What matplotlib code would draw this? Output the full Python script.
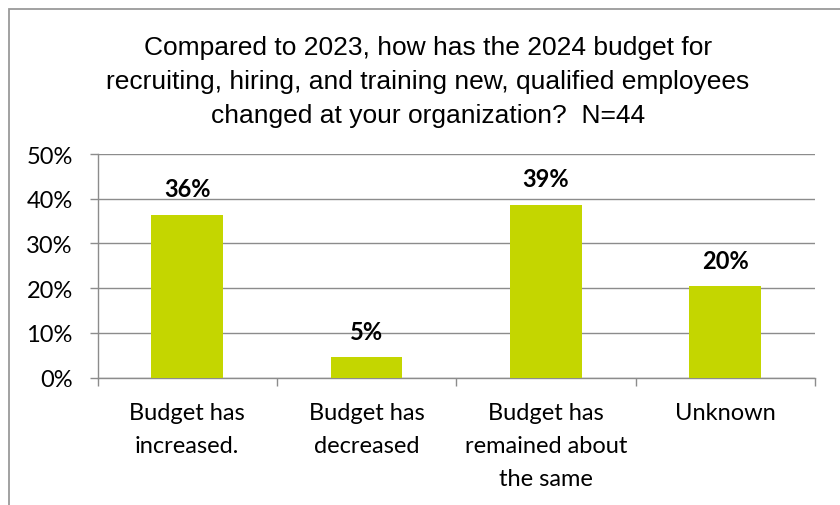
import matplotlib
matplotlib.use("Agg")
import matplotlib.pyplot as plt
from matplotlib.patches import Rectangle
import math

categories = ["Budget has\nincreased.", "Budget has\ndecreased",
              "Budget has\nremained about\nthe same", "Unknown"]
values = [36.36, 4.55, 38.64, 20.45]  # percent of respondents (N=44)
y_ticks = [0, 10, 20, 30, 40, 50]
title = ("Compared to 2023, how has the 2024 budget for\n"
         "recruiting, hiring, and training new, qualified employees\n"
         "changed at your organization?  N=44")

BAR = "#c4d600"
GRID = "#8c8c8c"
W, H, DPI = 840, 506, 100

fig = plt.figure(figsize=(W / DPI, H / DPI), dpi=DPI)
fig.patch.set_facecolor("white")

# chart frame (left and top edges visible)
fig.patches.append(Rectangle((8.5 / W, -0.1), 2.0, (H - 9.5) / H + 0.1,
                             transform=fig.transFigure, fill=False,
                             edgecolor="#9a9a9a", linewidth=1.3))

fig.text(428 / W, 1 - 82 / H, title, ha="center", va="center",
         fontsize=19, family="Liberation Sans", linespacing=1.52, color="black")

left, right = 97.5 / W, 815 / W
bottom, top = 1 - 378.5 / H, 1 - 155 / H
ax = fig.add_axes([left, bottom, right - left, top - bottom])

x = list(range(len(categories)))
ax.bar(x, values, width=0.4, color=BAR, zorder=3)
ax.set_xlim(-0.5, len(categories) - 0.5)
ax.set_ylim(0, 50)

FS = 17
ax.set_yticks(y_ticks)
ax.set_yticklabels([f"{t}%" for t in y_ticks], family="Lato", fontsize=FS)
ax.yaxis.grid(True, color=GRID, linewidth=1.0, zorder=0)
ax.tick_params(axis="y", length=5.8, width=1.0, color=GRID, pad=12)

ax.set_xticks(x)
ax.set_xticklabels(categories, family="Lato", fontsize=FS, linespacing=1.7)
ax.tick_params(axis="x", which="major", length=0, pad=18)
ax.set_xticks([i - 0.5 for i in range(len(categories) + 1)], minor=True)
ax.tick_params(axis="x", which="minor", length=5.8, width=1.0, color=GRID)

for s in ("top", "right"):
    ax.spines[s].set_visible(False)
for s in ("left", "bottom"):
    ax.spines[s].set_color(GRID)
    ax.spines[s].set_linewidth(1.0)

for xi, v in zip(x, values):
    ax.annotate(f"{math.floor(v + 0.5)}%", (xi, v), xytext=(0, 18.7),
                textcoords="offset points", ha="center", va="center",
                family="Lato", fontsize=FS, fontweight="bold")

fig.savefig("out.png", dpi=DPI)
